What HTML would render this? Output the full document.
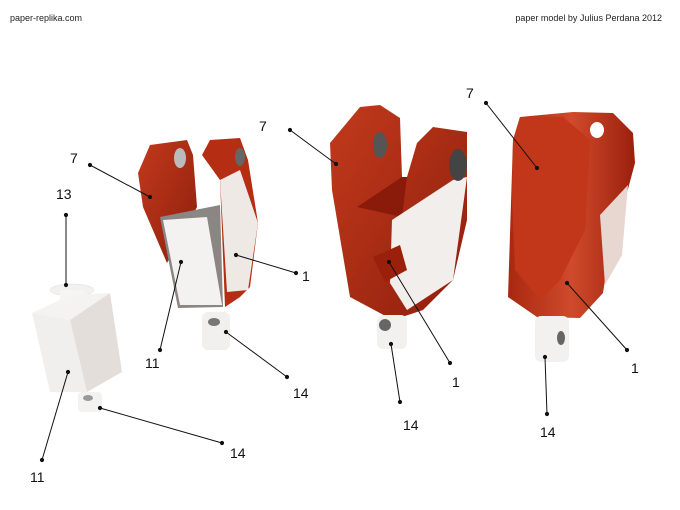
<!DOCTYPE html>
<html><head><meta charset="utf-8"><style>
html,body{margin:0;padding:0;background:#fff;}
svg{display:block;font-family:"Liberation Sans",sans-serif;}
</style></head><body>
<svg width="680" height="510" viewBox="0 0 680 510" xmlns="http://www.w3.org/2000/svg">
<defs>
<linearGradient id="red" x1="0" y1="0" x2="1" y2="1"><stop offset="0" stop-color="#c23a1c"/><stop offset="1" stop-color="#8e1e0c"/></linearGradient>
<linearGradient id="red2" x1="0" y1="0" x2="1" y2="0"><stop offset="0" stop-color="#a8280f"/><stop offset="0.5" stop-color="#d04a2c"/><stop offset="1" stop-color="#9a200c"/></linearGradient>
</defs>
<text x="10" y="21" font-size="9" fill="#222">paper-replika.com</text>
<text x="662" y="21" font-size="9" fill="#222" text-anchor="end">paper model by Julius Perdana 2012</text>

<!-- model A -->
<ellipse cx="72" cy="290" rx="22" ry="6" fill="#f3f1ef" stroke="#ddd" stroke-width="0.5"/>
<rect x="60" y="290" width="24" height="10" fill="#f7f5f3"/>
<polygon points="32,313 70,295 110,293 70,320" fill="#f5f3f1"/>
<polygon points="32,313 70,320 87,392 50,392" fill="#f1efed"/>
<polygon points="70,320 110,293 122,372 87,392" fill="#e4dedb"/>
<rect x="78" y="392" width="24" height="20" rx="4" fill="#f4f2f0"/>
<ellipse cx="88" cy="398" rx="5" ry="3" fill="#999"/>

<!-- model B -->
<polygon points="150,145 187,140 193,155 197,207 167,263 143,207 138,173" fill="url(#red)"/>
<polygon points="202,155 210,140 240,138 248,160 258,223 250,287 240,297 225,307 220,180" fill="#b52d12"/>
<polygon points="220,180 240,170 258,223 248,290 227,292" fill="#efe9e6"/>
<polygon points="160,217 220,205 223,307 178,308" fill="#8a8684"/>
<polygon points="163,220 207,217 222,305 180,305" fill="#f4f2f0"/>
<ellipse cx="180" cy="158" rx="6" ry="10" fill="#bbb"/>
<ellipse cx="240" cy="157" rx="5" ry="9" fill="#666"/>
<rect x="202" y="312" width="28" height="38" rx="6" fill="#f2f0ee"/>
<ellipse cx="214" cy="322" rx="6" ry="4" fill="#777"/>

<!-- model C -->
<polygon points="360,107 380,105 400,118 402,177 407,177 417,143 433,127 467,132 467,220 453,280 423,310 393,320 350,297 332,190 330,143" fill="url(#red)"/>
<polygon points="402,177 407,177 402,217 357,207" fill="#8a1a0a"/>
<polygon points="392,220 453,180 467,177 453,280 407,310 390,283" fill="#f2eeec"/>
<polygon points="373,257 400,245 407,270 385,282" fill="#9a200c"/>
<ellipse cx="380" cy="145" rx="7" ry="13" fill="#555"/>
<ellipse cx="458" cy="165" rx="9" ry="16" fill="#444"/>
<rect x="377" y="315" width="30" height="34" rx="6" fill="#f3f1ef"/>
<ellipse cx="385" cy="325" rx="6" ry="6" fill="#666"/>

<!-- model D -->
<polygon points="520,117 573,112 613,113 633,133 635,163 607,267 603,293 580,318 537,317 508,297 513,140" fill="url(#red2)"/>
<polygon points="520,117 563,117 590,140 585,230 560,280 540,300 515,270 512,200 513,140" fill="#c2361a"/>
<polygon points="600,215 628,185 622,255 605,285" fill="#e8d6d0"/>
<ellipse cx="597" cy="130" rx="7" ry="8" fill="#fff"/>
<rect x="535" y="316" width="34" height="46" rx="6" fill="#f3f1ef"/>
<ellipse cx="561" cy="338" rx="4" ry="7" fill="#666"/>

<!-- leader lines -->
<g stroke="#111" stroke-width="1" fill="#111">
<line x1="90" y1="165" x2="150" y2="197"/><circle cx="90" cy="165" r="1.6"/><circle cx="150" cy="197" r="1.6"/>
<line x1="66" y1="215" x2="66" y2="285"/><circle cx="66" cy="215" r="1.6"/><circle cx="66" cy="285" r="1.6"/>
<line x1="42" y1="460" x2="68" y2="372"/><circle cx="42" cy="460" r="1.6"/><circle cx="68" cy="372" r="1.6"/>
<line x1="222" y1="443" x2="100" y2="408"/><circle cx="222" cy="443" r="1.6"/><circle cx="100" cy="408" r="1.6"/>
<line x1="160" y1="350" x2="181" y2="262"/><circle cx="160" cy="350" r="1.6"/><circle cx="181" cy="262" r="1.6"/>
<line x1="296" y1="273" x2="236" y2="255"/><circle cx="296" cy="273" r="1.6"/><circle cx="236" cy="255" r="1.6"/>
<line x1="287" y1="377" x2="226" y2="332"/><circle cx="287" cy="377" r="1.6"/><circle cx="226" cy="332" r="1.6"/>
<line x1="290" y1="130" x2="336" y2="164"/><circle cx="290" cy="130" r="1.6"/><circle cx="336" cy="164" r="1.6"/>
<line x1="400" y1="402" x2="391" y2="344"/><circle cx="400" cy="402" r="1.6"/><circle cx="391" cy="344" r="1.6"/>
<line x1="450" y1="363" x2="389" y2="262"/><circle cx="450" cy="363" r="1.6"/><circle cx="389" cy="262" r="1.6"/>
<line x1="486" y1="103" x2="537" y2="168"/><circle cx="486" cy="103" r="1.6"/><circle cx="537" cy="168" r="1.6"/>
<line x1="627" y1="350" x2="567" y2="283"/><circle cx="627" cy="350" r="1.6"/><circle cx="567" cy="283" r="1.6"/>
<line x1="547" y1="414" x2="545" y2="357"/><circle cx="547" cy="414" r="1.6"/><circle cx="545" cy="357" r="1.6"/>
</g>
<g font-size="14" fill="#111">
<text x="70" y="163">7</text>
<text x="56" y="199">13</text>
<text x="30" y="482">11</text>
<text x="230" y="458">14</text>
<text x="145" y="368">11</text>
<text x="302" y="281">1</text>
<text x="293" y="398">14</text>
<text x="259" y="131">7</text>
<text x="403" y="430">14</text>
<text x="452" y="387">1</text>
<text x="466" y="98">7</text>
<text x="631" y="373">1</text>
<text x="540" y="437">14</text>
</g>
</svg>
</body></html>
